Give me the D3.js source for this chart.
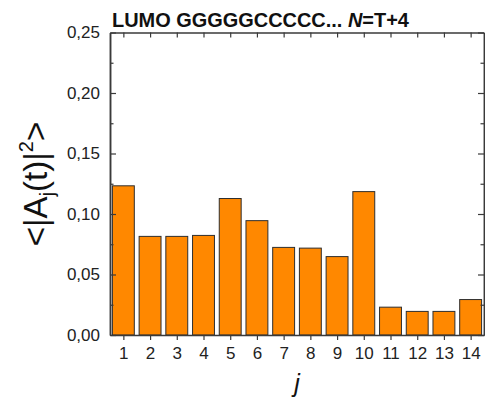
<!DOCTYPE html>
<html>
<head>
<meta charset="utf-8">
<script src="https://cdn.jsdelivr.net/npm/d3@7"></script>
<style>
  html, body { margin: 0; padding: 0; background: #fff; }
  svg { display: block; font-family: Arial, "Liberation Sans", sans-serif; }
</style>
</head>
<body>
<svg id="chart" width="485" height="407"></svg>
<script>
// Site index j and the time-averaged occupation <|A_j(t)|^2>
const sites = [1, 2, 3, 4, 5, 6, 7, 8, 9, 10, 11, 12, 13, 14];
const occupation = [0.1233, 0.0815, 0.0815, 0.0823, 0.1128, 0.0945, 0.0724, 0.0718, 0.0648, 0.1185, 0.0230, 0.0195, 0.0195, 0.0293];
const yTicks = [0, 0.05, 0.10, 0.15, 0.20, 0.25];
const yMinorTicks = [0.025, 0.075, 0.125, 0.175, 0.225];

const svg = d3.select("#chart");
const plotLeft = 110, plotRight = 484, plotTop = 32.5, plotBottom = 335;
const axisColor = "#3a3a3a";

const x = d3.scaleLinear().domain([0.5, 14.5]).range([plotLeft, plotRight]);
const y = d3.scaleLinear().domain([0, 0.25]).range([plotBottom, plotTop]);
const step = x(2) - x(1);
const barW = step * 0.82;

const fmt = d => d3.format(".2f")(d).replace(".", ",");

// bars
svg.append("g").selectAll("rect")
  .data(sites)
  .join("rect")
  .attr("x", (d) => x(d) - barW / 2)
  .attr("y", (d, i) => y(occupation[i]))
  .attr("width", barW)
  .attr("height", (d, i) => y(0) - y(occupation[i]))
  .attr("fill", "#ff8800")
  .attr("stroke", "#2e2e2e")
  .attr("stroke-width", 1);

// left axis: ticks point inward
const leftAxis = svg.append("g")
  .attr("transform", `translate(${plotLeft},0)`)
  .call(d3.axisLeft(y).tickValues(yTicks).tickSizeInner(-6).tickSizeOuter(0).tickPadding(10).tickFormat(fmt));
leftAxis.selectAll("text").attr("font-size", 17).attr("fill", "#222").attr("font-family", "Arial, 'Liberation Sans', sans-serif");
svg.append("g")
  .attr("transform", `translate(${plotLeft},0)`)
  .call(d3.axisLeft(y).tickValues(yMinorTicks).tickSizeInner(-3.5).tickSizeOuter(0).tickFormat(""));

// right axis: ticks point inward
svg.append("g")
  .attr("transform", `translate(${plotRight},0)`)
  .call(d3.axisRight(y).tickValues(yTicks).tickSizeInner(-6).tickSizeOuter(0).tickFormat(""));
svg.append("g")
  .attr("transform", `translate(${plotRight},0)`)
  .call(d3.axisRight(y).tickValues(yMinorTicks).tickSizeInner(-3.5).tickSizeOuter(0).tickFormat(""));

// bottom axis: ticks point outward
const bottomAxis = svg.append("g")
  .attr("transform", `translate(0,${plotBottom})`)
  .call(d3.axisBottom(x).tickValues(sites).tickSizeInner(5).tickSizeOuter(0).tickPadding(7).tickFormat(d3.format("d")));
bottomAxis.selectAll("text").attr("font-size", 17).attr("fill", "#222").attr("font-family", "Arial, 'Liberation Sans', sans-serif");

// top axis: ticks point inward
svg.append("g")
  .attr("transform", `translate(0,${plotTop})`)
  .call(d3.axisTop(x).tickValues(sites).tickSizeInner(-5).tickSizeOuter(0).tickFormat(""));

svg.selectAll(".domain").attr("stroke", axisColor).attr("stroke-width", 1.5);
svg.selectAll(".tick line").attr("stroke", axisColor).attr("stroke-width", 1.2);

// title
const title = svg.append("text")
  .attr("x", 112).attr("y", 26.5)
  .attr("font-size", 20).attr("font-weight", "bold").attr("fill", "#111");
title.append("tspan").text("LUMO GGGGGCCCCC... ");
title.append("tspan").attr("font-style", "italic").text("N");
title.append("tspan").text("=T+4");
// size the title so it spans 112..409
const tw = title.node().getComputedTextLength();
if (tw > 0) title.attr("font-size", 20 * 297 / tw);

// y axis label
const yl = svg.append("text")
  .attr("transform", "translate(47,184) rotate(-90)")
  .attr("text-anchor", "middle")
  .attr("font-size", 33).attr("fill", "#111");
yl.append("tspan").text("<|A");
yl.append("tspan").attr("font-size", 20).attr("dy", 7).text("j");
yl.append("tspan").attr("dy", -7).text("(t)|");
yl.append("tspan").attr("font-size", 20).attr("dy", -14).text("2");
yl.append("tspan").attr("dy", 14).text(">");

// x axis label
svg.append("text")
  .attr("x", x(7.5)).attr("y", 392)
  .attr("text-anchor", "middle")
  .attr("font-size", 25).attr("font-style", "italic").attr("fill", "#111")
  .text("j");
</script>
</body>
</html>
